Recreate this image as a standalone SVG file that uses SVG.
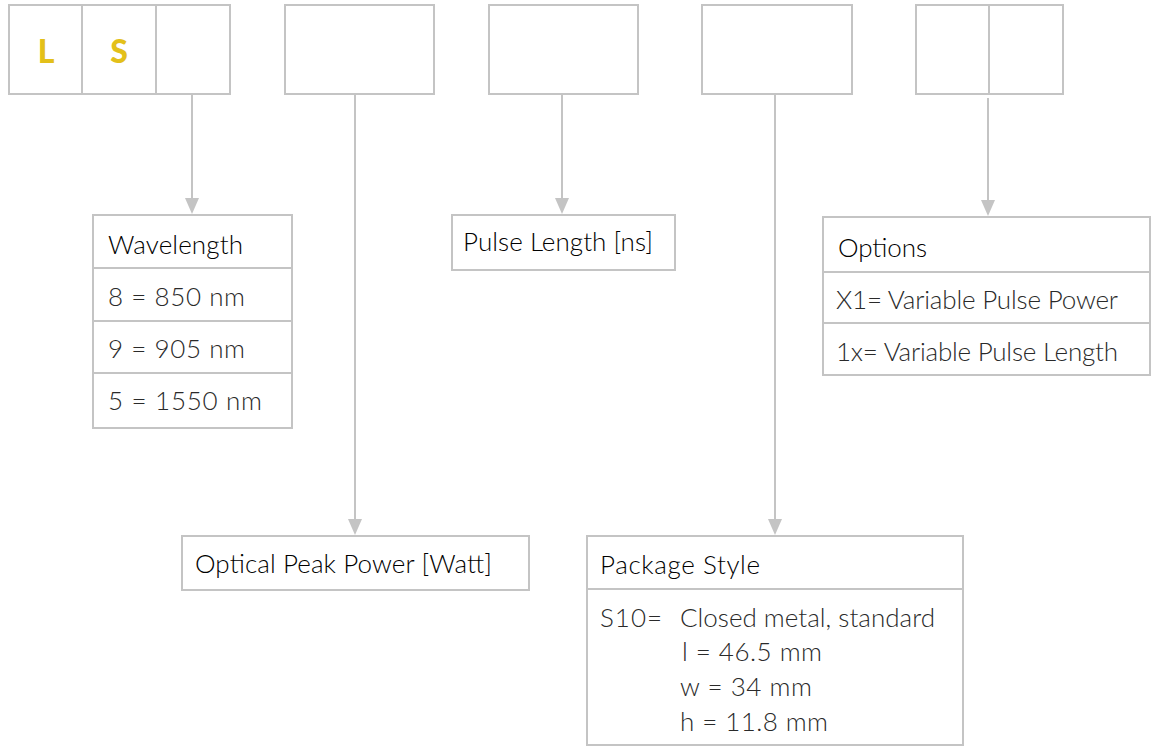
<svg xmlns="http://www.w3.org/2000/svg" width="1151" height="747" viewBox="0 0 1151 747">
<style>
.b{fill:#fff;stroke:#c4c4c4;stroke-width:2}
.c{stroke:#c4c4c4;stroke-width:2;fill:none}
.h{font-family:Lato,"Liberation Sans",sans-serif;font-weight:300;font-size:26px;fill:#000}
.v{font-family:Lato,"Liberation Sans",sans-serif;font-weight:300;font-size:26px;fill:#2a2a2a}
.y{font-family:Lato,"Liberation Sans",sans-serif;font-weight:900;font-size:32px;fill:#e3c01a;text-anchor:middle}
</style>
<g id="code-boxes">
<g id="box-ls">
<rect class="b" x="9" y="5" width="221" height="89"/>
<line class="c" x1="82" y1="5" x2="82" y2="94"/>
<line class="c" x1="156" y1="5" x2="156" y2="94"/>
<text class="y" x="46" y="63">L</text>
<text class="y" x="119" y="63">S</text>
</g>
<g id="box-power"><rect class="b" x="285" y="5" width="149" height="89"/></g>
<g id="box-pulse"><rect class="b" x="489" y="5" width="149" height="89"/></g>
<g id="box-package"><rect class="b" x="702" y="5" width="150" height="89"/></g>
<g id="box-options">
<rect class="b" x="916" y="5" width="147" height="89"/>
<line class="c" x1="989" y1="5" x2="989" y2="94"/>
</g>
</g>
<g id="connectors">
<path d="M192,94 V198" class="c"/><path d="M185,198 H199 L192,214 Z" fill="#c4c4c4"/>
<path d="M355,94 V519" class="c"/><path d="M348,519 H362 L355,535 Z" fill="#c4c4c4"/>
<path d="M562,94 V198" class="c"/><path d="M555,198 H569 L562,214 Z" fill="#c4c4c4"/>
<path d="M775,94 V519" class="c"/><path d="M768,519 H782 L775,535 Z" fill="#c4c4c4"/>
<path d="M988,98 V200" class="c"/><path d="M981,200 H995 L988,216 Z" fill="#c4c4c4"/>
</g>
<g id="wavelength">
<rect class="b" x="93" y="215" width="199" height="213"/>
<line class="c" x1="93" y1="268" x2="292" y2="268"/>
<line class="c" x1="93" y1="321" x2="292" y2="321"/>
<line class="c" x1="93" y1="373" x2="292" y2="373"/>
<text class="h" x="108" y="254" textLength="135" lengthAdjust="spacing">Wavelength</text>
<text class="v" x="108" y="306" textLength="137" lengthAdjust="spacing">8 = 850 nm</text>
<text class="v" x="108" y="358" textLength="137" lengthAdjust="spacing">9 = 905 nm</text>
<text class="v" x="108" y="410" textLength="154" lengthAdjust="spacing">5 = 1550 nm</text>
</g>
<g id="pulse-length">
<rect class="b" x="452" y="215" width="223" height="55"/>
<text class="h" x="463" y="251" textLength="190" lengthAdjust="spacing">Pulse Length [ns]</text>
</g>
<g id="options">
<rect class="b" x="823" y="217" width="327" height="158"/>
<line class="c" x1="823" y1="272" x2="1150" y2="272"/>
<line class="c" x1="823" y1="323" x2="1150" y2="323"/>
<text class="h" x="838" y="257" textLength="89" lengthAdjust="spacing">Options</text>
<text class="v" x="836" y="309" textLength="282" lengthAdjust="spacing">X1= Variable Pulse Power</text>
<text class="v" x="836" y="361" textLength="282" lengthAdjust="spacing">1x= Variable Pulse Length</text>
</g>
<g id="optical-peak-power">
<rect class="b" x="182" y="536" width="347" height="54"/>
<text class="h" x="195" y="573" textLength="297" lengthAdjust="spacing">Optical Peak Power [Watt]</text>
</g>
<g id="package-style">
<rect class="b" x="587" y="536" width="376" height="209"/>
<line class="c" x1="587" y1="589" x2="963" y2="589"/>
<text class="h" x="600" y="574" textLength="160" lengthAdjust="spacing">Package Style</text>
<text class="v" x="600" y="627" textLength="62" lengthAdjust="spacing">S10=</text>
<text class="v" x="680" y="627" textLength="255" lengthAdjust="spacing">Closed metal, standard</text>
<text class="v" x="682" y="661" textLength="140" lengthAdjust="spacing">l = 46.5 mm</text>
<text class="v" x="680" y="696" textLength="132" lengthAdjust="spacing">w = 34 mm</text>
<text class="v" x="680" y="731" textLength="148" lengthAdjust="spacing">h = 11.8 mm</text>
</g>
</svg>
